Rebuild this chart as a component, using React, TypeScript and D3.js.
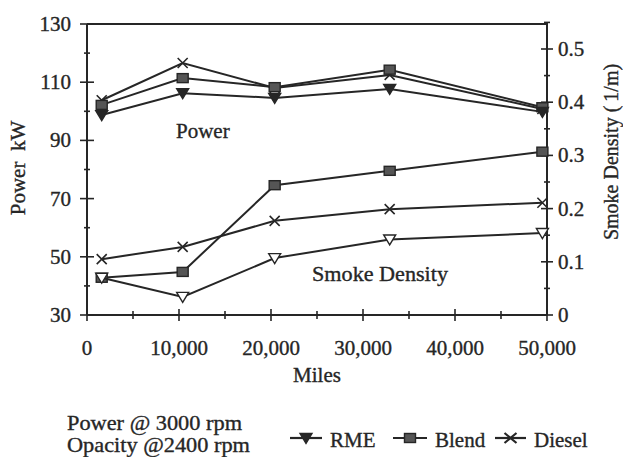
import React from "react";
import * as d3 from "d3";

const miles = [1600, 10400, 20400, 32900, 49500];
const powerRME = [98.7, 106.2, 104.6, 107.7, 99.8];
const powerBlend = [102.2, 111.4, 108.3, 114.3, 101.4];
const powerDiesel = [103.8, 116.6, 108.0, 112.5, 100.8];
const smokeRME = [0.07, 0.034, 0.107, 0.142, 0.154];
const smokeBlend = [0.07, 0.081, 0.244, 0.271, 0.307];
const smokeDiesel = [0.105, 0.128, 0.177, 0.199, 0.211];
const xTicks = [0, 10000, 20000, 30000, 40000, 50000];
const leftTicks = [30, 50, 70, 90, 110, 130];
const rightTicks = [0, 0.1, 0.2, 0.3, 0.4, 0.5];
const legendNames = ["RME", "Blend", "Diesel"];

const W = 623;
const H = 457;
const FONT = "'Liberation Serif', 'Times New Roman', serif";
const INK = "#262626";
const FS = 21;

export default function App() {
  const x = d3.scaleLinear().domain([0, 50000]).range([87, 547]);
  const yL = d3.scaleLinear().domain([30, 130]).range([315, 24]);
  const yR = d3.scaleLinear().domain([0, 0.5]).range([315, 49]);
  const line = d3.line<[number, number]>().x((d) => d[0]).y((d) => d[1]);

  const tri = (cx: number, cy: number, filled: boolean, k: string) => (
    <path
      key={k}
      d={`M${cx - 6},${cy - 4.5}L${cx + 6},${cy - 4.5}L${cx},${cy + 5.5}Z`}
      fill={filled ? INK : "white"}
      stroke={INK}
      strokeWidth={1.4}
    />
  );
  const sq = (cx: number, cy: number, k: string) => (
    <rect key={k} x={cx - 5.5} y={cy - 4.5} width={11} height={9} fill="#555" stroke={INK} strokeWidth={1.4} />
  );
  const cross = (cx: number, cy: number, k: string) => (
    <path key={k} d={`M${cx - 5},${cy - 5}L${cx + 5},${cy + 5}M${cx - 5},${cy + 5}L${cx + 5},${cy - 5}`} stroke={INK} strokeWidth={1.6} fill="none" />
  );
  const bowtie = (cx: number, cy: number, k: string) => (
    <path key={k} d={`M${cx - 6},${cy - 5}L${cx},${cy}L${cx - 6},${cy + 5}M${cx + 6},${cy - 5}L${cx},${cy}L${cx + 6},${cy + 5}`} stroke={INK} strokeWidth={2.2} fill="none" />
  );

  const series = [
    { vals: powerDiesel, y: yL, m: "x" },
    { vals: powerBlend, y: yL, m: "s" },
    { vals: powerRME, y: yL, m: "tf" },
    { vals: smokeDiesel, y: yR, m: "x" },
    { vals: smokeBlend, y: yR, m: "s" },
    { vals: smokeRME, y: yR, m: "to" },
  ];

  const marker = (m: string, cx: number, cy: number, k: string) =>
    m === "x" ? cross(cx, cy, k) : m === "b" ? bowtie(cx, cy, k) : m === "s" ? sq(cx, cy, k) : tri(cx, cy, m === "tf", k);

  const xMinor = d3.range(0, 50001, 5000);
  const lMinor = d3.range(30, 131, 10);
  const rMinor = d3.range(0, 0.551, 0.05);

  const legendItems = [
    { name: legendNames[0], m: "tf", x0: 290, x1: 322 },
    { name: legendNames[1], m: "s", x0: 393, x1: 427 },
    { name: legendNames[2], m: "b", x0: 495, x1: 526 },
  ];

  const textStyle = { stroke: INK, strokeWidth: 0.35 };

  return (
    <svg width={W} height={H} style={{ position: "absolute", left: 0, top: 0, background: "white" }} fontFamily={FONT} fill={INK}>
      <rect x={0} y={0} width={W} height={H} fill="white" />
      {/* frame */}
      <line x1={87} y1={24} x2={547} y2={24} stroke={INK} strokeWidth={2} />
      <line x1={87} y1={24} x2={87} y2={315} stroke={INK} strokeWidth={2} />
      <line x1={547} y1={22} x2={547} y2={315} stroke={INK} strokeWidth={2} />
      <line x1={87} y1={315} x2={547} y2={315} stroke={INK} strokeWidth={2} />
      {/* x ticks */}
      {xMinor.map((v, i) => (
        <line key={"xm" + i} x1={x(v)} x2={x(v)} y1={i % 2 === 0 ? 309 : 311} y2={i % 2 === 0 ? 321 : 319} stroke={INK} strokeWidth={1.6} />
      ))}
      <g style={textStyle} fontSize={FS}>
        {xTicks.map((v) => (
          <text key={"xt" + v} x={x(v)} y={355} textAnchor="middle">
            {v === 0 ? "0" : d3.format(",")(v)}
          </text>
        ))}
        {leftTicks.map((v) => (
          <text key={"lt" + v} x={71} y={yL(v) + 7} textAnchor="end">
            {v}
          </text>
        ))}
        {rightTicks.map((v) => (
          <text key={"rt" + v} x={558} y={yR(v) + 7} textAnchor="start">
            {v === 0 ? "0" : String(v)}
          </text>
        ))}
        <text x={176} y={138}>Power</text>
        <text x={312} y={281} textLength={136} lengthAdjust="spacingAndGlyphs">Smoke Density</text>
        <text x={317} y={382} textAnchor="middle">Miles</text>
        <text transform="translate(25,168) rotate(-90)" textAnchor="middle">{"Power\u00a0\u00a0kW"}</text>
        <text transform="translate(618,152) rotate(-90)" textAnchor="middle" fontSize={20}>{"Smoke Density (\u20091/m)"}</text>
        <text x={67} y={430} textLength={175} lengthAdjust="spacingAndGlyphs">Power @ 3000 rpm</text>
        <text x={67} y={452} textLength={183} lengthAdjust="spacingAndGlyphs">Opacity @2400 rpm</text>
      </g>
      {/* left ticks */}
      {lMinor.map((v, i) => (
        <line key={"lm" + i} x1={i % 2 === 0 ? 80 : 84} x2={i % 2 === 0 ? 94 : 90} y1={yL(v)} y2={yL(v)} stroke={INK} strokeWidth={1.6} />
      ))}
      {/* right ticks */}
      {rMinor.map((v, i) => (
        <line key={"rm" + i} x1={i % 2 === 0 ? 541 : 544} x2={i % 2 === 0 ? 553 : 550} y1={yR(v)} y2={yR(v)} stroke={INK} strokeWidth={1.6} />
      ))}
      {/* series */}
      {series.map((s, si) => {
        const pts = miles.map((m, i) => [x(m), s.y(s.vals[i])] as [number, number]);
        return (
          <g key={"s" + si}>
            <path d={line(pts) || ""} fill="none" stroke={INK} strokeWidth={2} />
            {pts.map((p, i) => marker(s.m, p[0], p[1], `m${si}-${i}`))}
          </g>
        );
      })}
      {/* legend */}
      {legendItems.map((it) => (
        <g key={it.name}>
          <line x1={it.x0} x2={it.x1} y1={438} y2={438} stroke={INK} strokeWidth={2.2} />
          {marker(it.m, (it.x0 + it.x1) / 2, 438, "lg" + it.name)}
          <text x={it.x1 + 8} y={447} fontSize={FS} style={textStyle}>{it.name}</text>
        </g>
      ))}
    </svg>
  );
}
